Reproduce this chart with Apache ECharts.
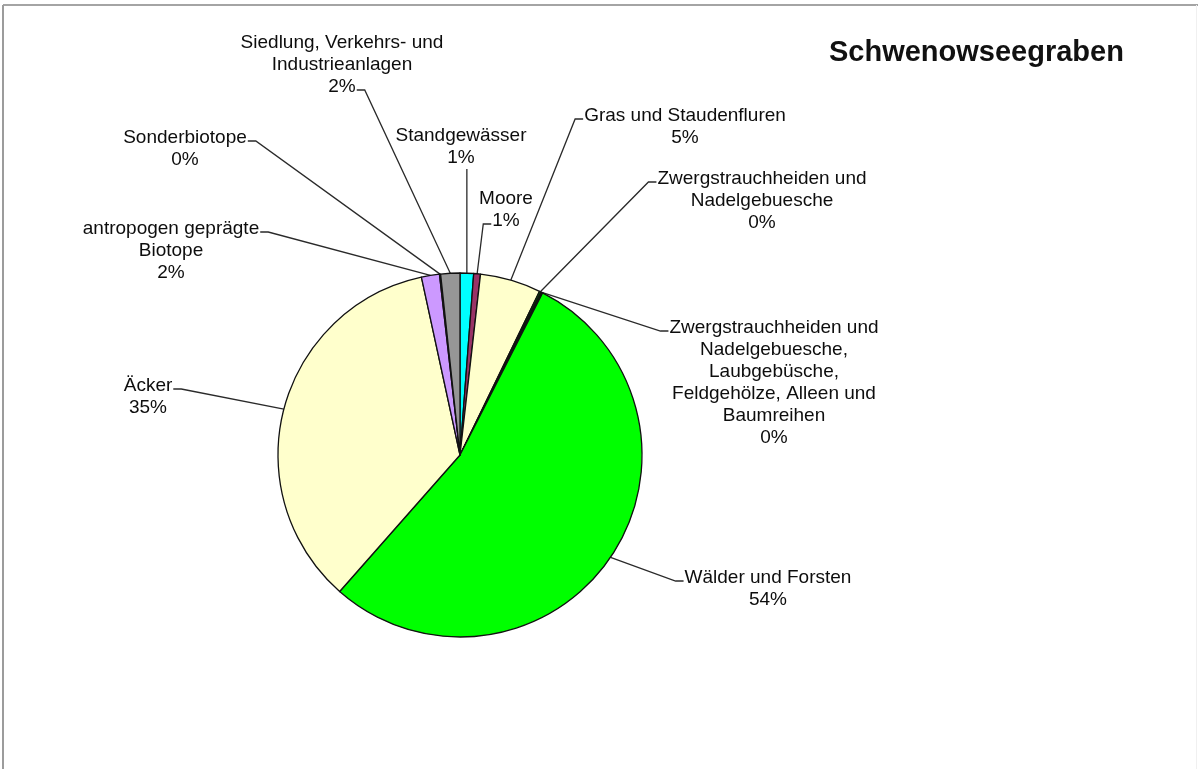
<!DOCTYPE html>
<html>
<head>
<meta charset="utf-8">
<script src="https://cdn.jsdelivr.net/npm/echarts@6/dist/echarts.min.js"></script>
<style>
  html, body { margin: 0; padding: 0; background: #fff; }
  #chart { width: 1198px; height: 769px; }
</style>
</head>
<body>
<div id="chart"></div>
<script>
// Land use shares, clockwise from 12 o'clock
const categories = [
  'Standgewässer',
  'Moore',
  'Gras und Staudenfluren',
  'Zwergstrauchheiden und\nNadelgebuesche',
  'Zwergstrauchheiden und\nNadelgebuesche,\nLaubgebüsche,\nFeldgehölze, Alleen und\nBaumreihen',
  'Wälder und Forsten',
  'Äcker',
  'antropogen geprägte\nBiotope',
  'Sonderbiotope',
  'Siedlung, Verkehrs- und\nIndustrieanlagen'
];
const shares = [1.2, 0.6, 5.4, 0.15, 0.15, 54.0, 35.1, 1.6, 0.1, 1.7];
const sliceColors = ['#00FFFF', '#993366', '#FFFFCC', '#008000', '#003300',
                     '#00FF00', '#FFFFCC', '#CC99FF', '#333399', '#969696'];

const FONT = '"Liberation Sans", Arial, sans-serif';
const FONT_SIZE = 19;
const LINE_H = 22;

// Where each label block sits (centre x, top y) and where its leader line attaches
const labelBoxes = [
  { x: 461, y: 125, side: 'bottom' },
  { x: 506, y: 188, side: 'left', line: 1 },
  { x: 685, y: 105, side: 'left', line: 0 },
  { x: 762, y: 168, side: 'left', line: 0 },
  { x: 774, y: 317, side: 'left', line: 0 },
  { x: 768, y: 567, side: 'left', line: 0 },
  { x: 148, y: 375, side: 'right', line: 0 },
  { x: 171, y: 218, side: 'right', line: 0 },
  { x: 185, y: 127, side: 'right', line: 0 },
  { x: 342, y: 32, side: 'right', line: 2 }
];

const measureCtx = document.createElement('canvas').getContext('2d');
measureCtx.font = FONT_SIZE + 'px ' + FONT;
function textWidth(s) { return measureCtx.measureText(s).width; }

const chart = echarts.init(document.getElementById('chart'), null, { renderer: 'canvas' });

chart.setOption({
  backgroundColor: '#fff',
  animation: false,
  title: {
    text: 'Schwenowseegraben',
    left: 829,
    top: 38,
    padding: 0,
    textStyle: { fontFamily: FONT, fontSize: 29, fontWeight: 'bold', color: '#111' }
  },
  graphic: [
    { type: 'line', shape: { x1: 3, y1: 5, x2: 1198, y2: 5 }, style: { stroke: '#a4a4a4', lineWidth: 2 } },
    { type: 'line', shape: { x1: 3, y1: 5, x2: 3, y2: 769 }, style: { stroke: '#9c9c9c', lineWidth: 2 } },
    { type: 'line', shape: { x1: 1196.5, y1: 5, x2: 1196.5, y2: 769 }, style: { stroke: '#f0f0f0', lineWidth: 1 } }
  ],
  series: [{
    type: 'pie',
    center: [460, 455],
    radius: 182,
    startAngle: 90,
    clockwise: true,
    avoidLabelOverlap: false,
    minShowLabelAngle: 0,
    emphasis: { disabled: true },
    itemStyle: { borderColor: '#111', borderWidth: 1.3 },
    label: {
      show: true,
      position: 'outside',
      fontFamily: FONT,
      fontSize: FONT_SIZE,
      lineHeight: LINE_H,
      color: '#0d0d0d',
      align: 'center',
      formatter: p => p.name + '\n' + Math.round(p.percent) + '%'
    },
    labelLine: {
      show: true,
      lineStyle: { color: '#2a2a2a', width: 1.3 }
    },
    labelLayout: function (params) {
      const box = labelBoxes[params.dataIndex];
      const lines = String(params.text).split('\n');
      const anchor = params.labelLinePoints ? params.labelLinePoints[0] : [box.x, box.y];
      let pts;
      if (box.side === 'bottom') {
        const by = box.y + lines.length * LINE_H;
        pts = [anchor, [anchor[0], by], [anchor[0], by]];
      } else {
        const w = textWidth(lines[box.line]);
        const ay = box.y + LINE_H * box.line + LINE_H / 2 + 3;
        const dir = box.side === 'left' ? -1 : 1;
        const ax = box.x + dir * (w / 2 + 1);
        pts = [anchor, [ax + dir * 8, ay], [ax, ay]];
      }
      return {
        x: box.x,
        y: box.y,
        align: 'center',
        verticalAlign: 'top',
        labelLinePoints: pts
      };
    },
    data: categories.map((name, i) => ({
      name: name,
      value: shares[i],
      itemStyle: { color: sliceColors[i] }
    }))
  }]
});
</script>
</body>
</html>
